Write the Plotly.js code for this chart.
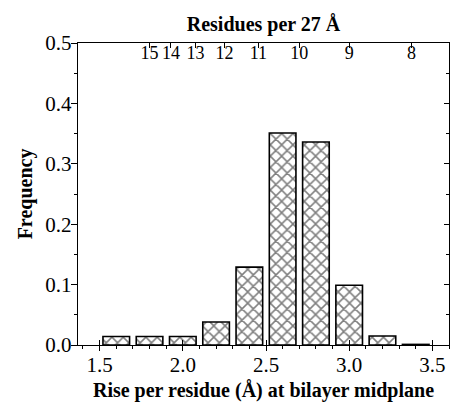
<!DOCTYPE html>
<html>
<head>
<meta charset="utf-8">
<script src="https://cdn.plot.ly/plotly-3.0.1.min.js"></script>
<style>html,body{margin:0;padding:0;background:#fff;}#chart{width:451px;height:406px;}</style>
</head>
<body>
<div id="chart"></div>
<script>
// Data
const risePerResidue = [1.6, 1.8, 2.0, 2.2, 2.4, 2.6, 2.8, 3.0, 3.2, 3.4];
const frequency      = [0.014, 0.014, 0.014, 0.038, 0.129, 0.351, 0.336, 0.099, 0.015, 0.001];
const residueCounts  = [15, 14, 13, 12, 11, 10, 9, 8];
const helixLength    = 27;
const xTickVals = [1.5, 2.0, 2.5, 3.0, 3.5];
const xTickText = ['1.5', '2.0', '2.5', '3.0', '3.5'];
const yTickVals = [0, 0.1, 0.2, 0.3, 0.4, 0.5];
const yTickText = ['0.0', '0.1', '0.2', '0.3', '0.4', '0.5'];

const topTickVals = residueCounts.map(n => helixLength / n);
const topTickText = residueCounts.map(String);

const xRange = [1.37, 3.6];
const yRange = [0, 0.5];
const font = {family: 'Liberation Serif, Times New Roman, serif', color: '#000'};

const trace = {
  type: 'bar',
  x: risePerResidue,
  y: frequency,
  width: 0.16,
  marker: {
    color: '#fff',
    line: {color: '#000', width: 1.6},
    pattern: {shape: 'x', size: 8, solidity: 0.35, fgcolor: '#000', bgcolor: '#fff', fillmode: 'overlay'}
  },
  hoverinfo: 'x+y',
  showlegend: false
};

// invisible helper traces so the overlay axes are drawn
function ghost(xa, ya) {
  return {type: 'scatter', x: [xRange[0]], y: [0], xaxis: xa, yaxis: ya,
          mode: 'markers', marker: {opacity: 0}, hoverinfo: 'skip', showlegend: false};
}

const layout = {
  width: 451, height: 406,
  margin: {l: 78, r: 2, t: 43, b: 61},
  paper_bgcolor: '#fff', plot_bgcolor: '#fff',
  font: Object.assign({size: 20}, font),
  bargap: 0,
  xaxis: {
    range: xRange,
    tickvals: xTickVals, ticktext: xTickText,
    ticks: 'outside', ticklen: 5, tickwidth: 1, tickcolor: '#000',
    ticklabelstandoff: -4,
    minor: {dtick: 0.1, tick0: 1.5, ticks: 'outside', ticklen: 3, tickcolor: '#000'},
    showline: true, linecolor: '#000', linewidth: 1.2,
    showgrid: false, zeroline: false,
    tickfont: Object.assign({size: 21}, font),
    title: {text: '<b>Rise per residue (Å) at bilayer midplane</b>', font: Object.assign({size: 20}, font), standoff: 6}
  },
  // top frame line with inward ticks at 27/n, and its title
  xaxis2: {
    overlaying: 'x', side: 'top', matches: 'x', range: xRange,
    tickvals: topTickVals, showticklabels: false,
    ticks: 'inside', ticklen: 5, tickcolor: '#000',
    showline: true, linecolor: '#000', linewidth: 1.2,
    showgrid: false, zeroline: false,
    title: {text: '<b>Residues per 27 Å</b>', font: Object.assign({size: 20}, font), standoff: 4}
  },
  // top tick labels, hanging just below the top frame
  xaxis3: {
    overlaying: 'x', side: 'bottom', anchor: 'free', position: 1, matches: 'x', range: xRange,
    tickvals: topTickVals, ticktext: topTickText,
    ticks: '', showline: false, showgrid: false, zeroline: false,
    ticklabelstandoff: -3,
    tickfont: Object.assign({size: 18}, font)
  },
  // inward half of the crossing major ticks on the bottom axis
  xaxis4: {
    overlaying: 'x', side: 'bottom', matches: 'x', range: xRange,
    tickvals: xTickVals, showticklabels: false,
    ticks: 'inside', ticklen: 5, tickcolor: '#000',
    showline: false, showgrid: false, zeroline: false
  },
  yaxis: {
    range: yRange,
    tickvals: yTickVals, ticktext: yTickText,
    ticks: 'outside', ticklen: 6, tickcolor: '#000',
    ticklabelstandoff: -5,
    minor: {dtick: 0.05, ticks: 'outside', ticklen: 3, tickcolor: '#000'},
    showline: true, linecolor: '#000', linewidth: 1.2,
    showgrid: false, zeroline: false,
    tickfont: Object.assign({size: 21}, font),
    title: {text: '<b>Frequency</b>', font: Object.assign({size: 20}, font), standoff: 7}
  },
  // right frame with inward ticks
  yaxis2: {
    overlaying: 'y', side: 'right', matches: 'y', range: yRange,
    tickvals: yTickVals, showticklabels: false,
    ticks: 'inside', ticklen: 5, tickcolor: '#000',
    minor: {dtick: 0.05, ticks: 'inside', ticklen: 3, tickcolor: '#000'},
    showline: true, linecolor: '#000', linewidth: 1.2,
    showgrid: false, zeroline: false
  }
};

Plotly.newPlot('chart',
  [trace, ghost('x2', 'y'), ghost('x3', 'y'), ghost('x4', 'y'), ghost('x', 'y2')],
  layout, {displayModeBar: false, staticPlot: true});
</script>
</body>
</html>
